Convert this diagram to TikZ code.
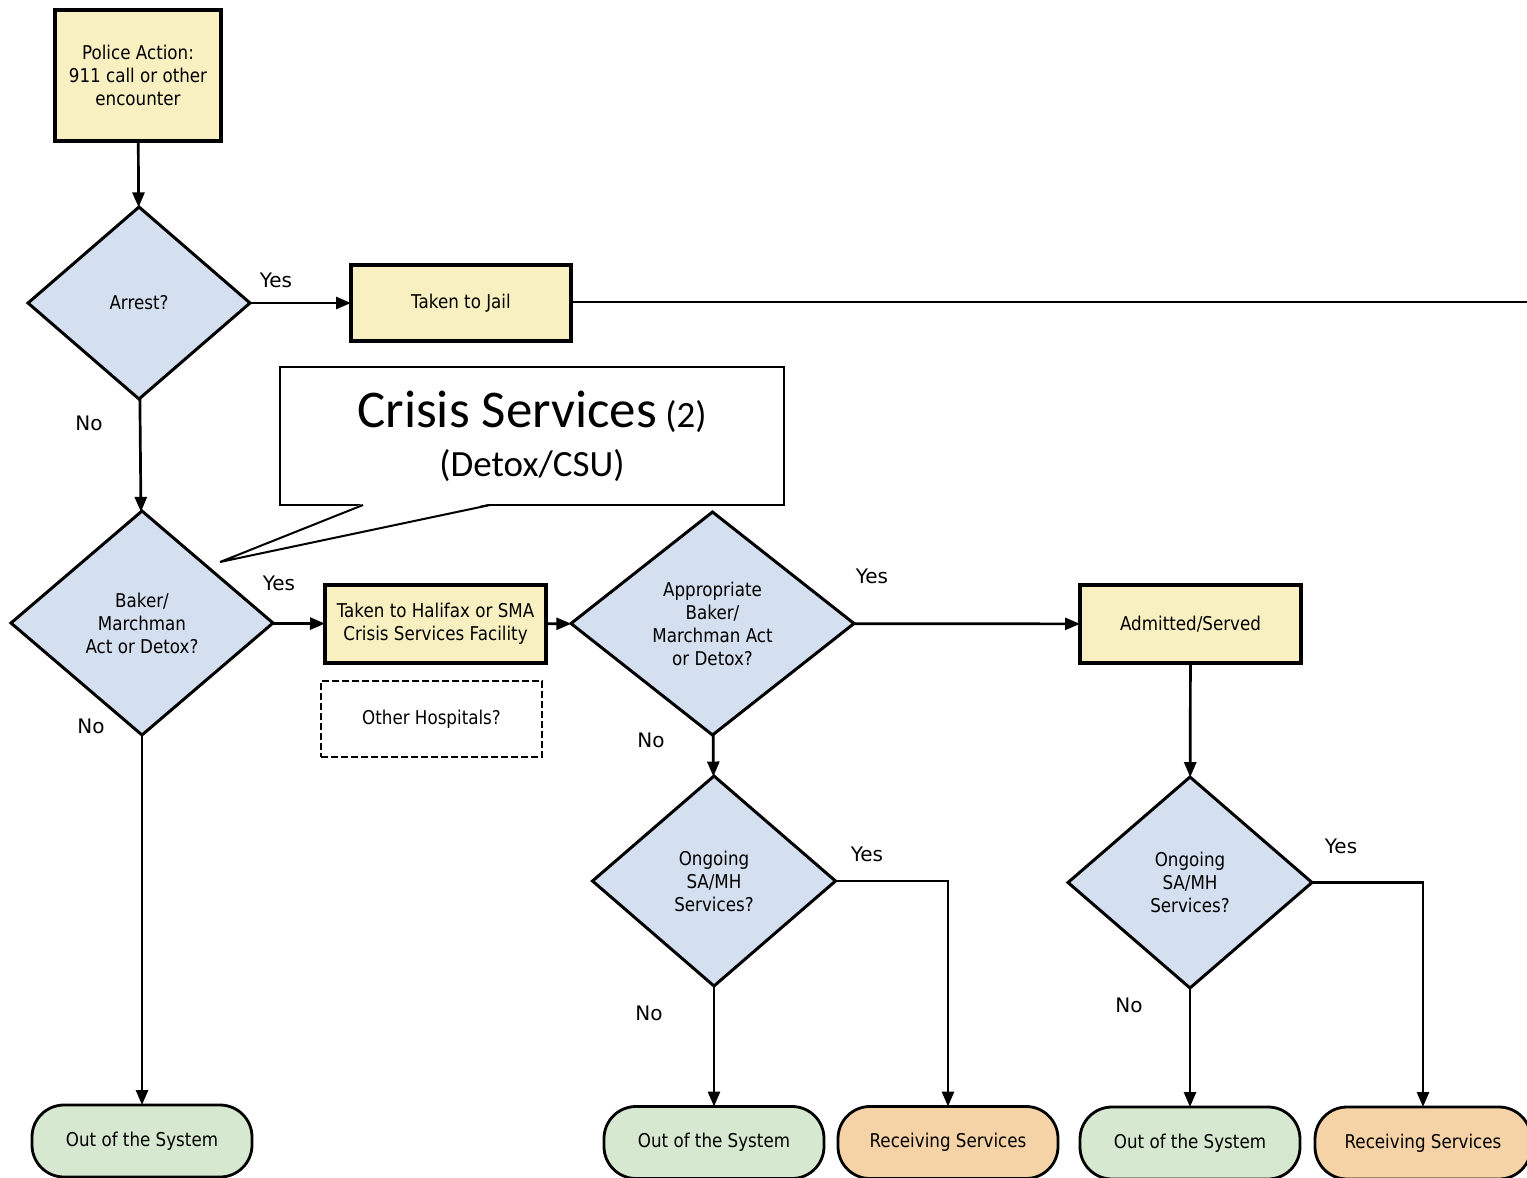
\documentclass[tikz,border=0pt]{standalone}
\usepackage{fontspec}
\usepackage{tikz}
\usetikzlibrary{calc,arrows.meta}
\usetikzlibrary{shapes.geometric}
\newfontfamily\boxfont[FakeStretch=0.88]{DejaVu Sans}
\newfontfamily\lblfont{DejaVu Sans}
\newfontfamily\calloutfont{Carlito}
\definecolor{boxyellow}{HTML}{F8F0C0}
\definecolor{questblue}{HTML}{D4DFF0}
\definecolor{endgreen}{HTML}{D7E8D0}
\definecolor{endorange}{HTML}{F6D3A6}

\begin{document}
\begin{tikzpicture}[
		x=1pt, y=-1pt,								% Pixelraster
		>={Triangle[length=15pt,width=12pt]},	% Pfeilspitzen
		line width=2.7pt,
		inner sep=0pt, outer sep=0pt,
		font=\boxfont\fontsize{19}{23}\selectfont,
		actionbox/.style={draw, rectangle, fill=boxyellow, line width=3.2pt, align=center},
		notebox/.style={draw, rectangle, dash pattern=on 7pt off 3pt, fill=white, line width=2.6pt, align=center},
		questbox/.style={draw, diamond, fill=questblue, line width=3pt, align=center},
		endbox/.style={draw, rectangle, rounded corners=32pt, line width=2.8pt,
			minimum width=220pt, minimum height=72pt},
		answer/.style={font=\lblfont\fontsize{20}{24}\selectfont}
	]
	\useasboundingbox (0,0) rectangle (1527,1178);

	% Knoten
	\node[actionbox, minimum width=166pt, minimum height=131pt] (police) at (138,75.5) {Police Action:\\911 call or other\\encounter};
	\node[questbox, minimum width=222pt, minimum height=192pt] (arrest) at (139,303) {Arrest?};
	\node[actionbox, minimum width=220pt, minimum height=76pt] (jail) at (461,303) {Taken to Jail};
	\node[questbox, minimum width=262pt, minimum height=224pt] (baker) at (142,623) {Baker/\\Marchman\\Act or Detox?};
	\node[actionbox, minimum width=221pt, minimum height=78pt] (halifax) at (435.5,624) {Taken to Halifax or SMA\\Crisis Services Facility};
	\node[notebox, minimum width=221pt, minimum height=76pt] (other) at (431.5,719) {Other Hospitals?};
	\node[questbox, minimum width=283pt, minimum height=223pt] (approp) at (712.5,623.5) {Appropriate\\Baker/\\Marchman Act\\or Detox?};
	\node[actionbox, minimum width=221pt, minimum height=78pt] (admitted) at (1190.5,624) {Admitted/Served};
	\node[questbox, minimum width=243pt, minimum height=210pt] (ongoing1) at (714,881) {Ongoing\\SA/MH\\Services?};
	\node[questbox, minimum width=244pt, minimum height=211pt] (ongoing2) at (1190,882.5) {Ongoing\\SA/MH\\Services?};

	% Endzustaende
	\node[endbox, fill=endgreen] (out1) at (142,1141) {Out of the System};
	\node[endbox, fill=endgreen] (out2) at (714,1142.5) {Out of the System};
	\node[endbox, fill=endorange] (recv1) at (948,1142.5) {Receiving Services};
	\node[endbox, fill=endgreen] (out3) at (1190,1143) {Out of the System};
	\node[endbox, fill=endorange, minimum width=216pt] (recv2) at (1423,1143) {Receiving Services};

	% Sprechblase
	\node[draw, rectangle, fill=white, line width=2pt, minimum width=504pt, minimum height=138pt, align=center,
		font=\calloutfont\fontsize{37}{49}\selectfont] (crisis) at (532,436)
		{{\fontsize{53}{53}\selectfont Crisis Services} (2)\\(Detox/CSU)};
	\coordinate (crisistip) at (220,562);
	\fill[white] ([xshift=83pt,yshift=1.4pt]crisis.south west) -- (crisistip) -- ([xshift=210pt,yshift=1.4pt]crisis.south west) -- cycle;
	\draw[line width=2pt] ([xshift=83pt]crisis.south west) -- (crisistip) -- ([xshift=210pt]crisis.south west);

	% Pfeile
	\coordinate (jailout) at (1535,302);
	\draw[->] (police) -- (arrest);
	\draw[->] (arrest) -- (jail);
	\draw (jail.east |- jailout) -- (jailout);
	\draw[->] (arrest) -- (baker);
	\draw[->] (baker) -- (halifax);
	\draw[->] (baker) -- (out1);
	\draw[->] (halifax) -- (approp);
	\draw[->] (approp) -- (admitted);
	\draw[->] (approp) -- (ongoing1);
	\draw[->] (admitted) -- (ongoing2);
	\draw[->] (ongoing1) -- (out2);
	\draw[->] (ongoing1) -| (recv1);
	\draw[->] (ongoing2) -- (out3);
	\draw[->] (ongoing2) -| (recv2);

	% Beschriftungen
	\node[answer] (yes1) at (276,280) {Yes};
	\node[answer] (no1) at (89,423) {No};
	\node[answer] (yes2) at (279,583) {Yes};
	\node[answer] (no2) at (91,726) {No};
	\node[answer] (yes3) at (872,576) {Yes};
	\node[answer] (no3) at (651,740) {No};
	\node[answer] (yes4) at (867,854) {Yes};
	\node[answer] (no4) at (649,1013) {No};
	\node[answer] (yes5) at (1341,846) {Yes};
	\node[answer] (no5) at (1129,1005) {No};

\end{tikzpicture}
\end{document}
